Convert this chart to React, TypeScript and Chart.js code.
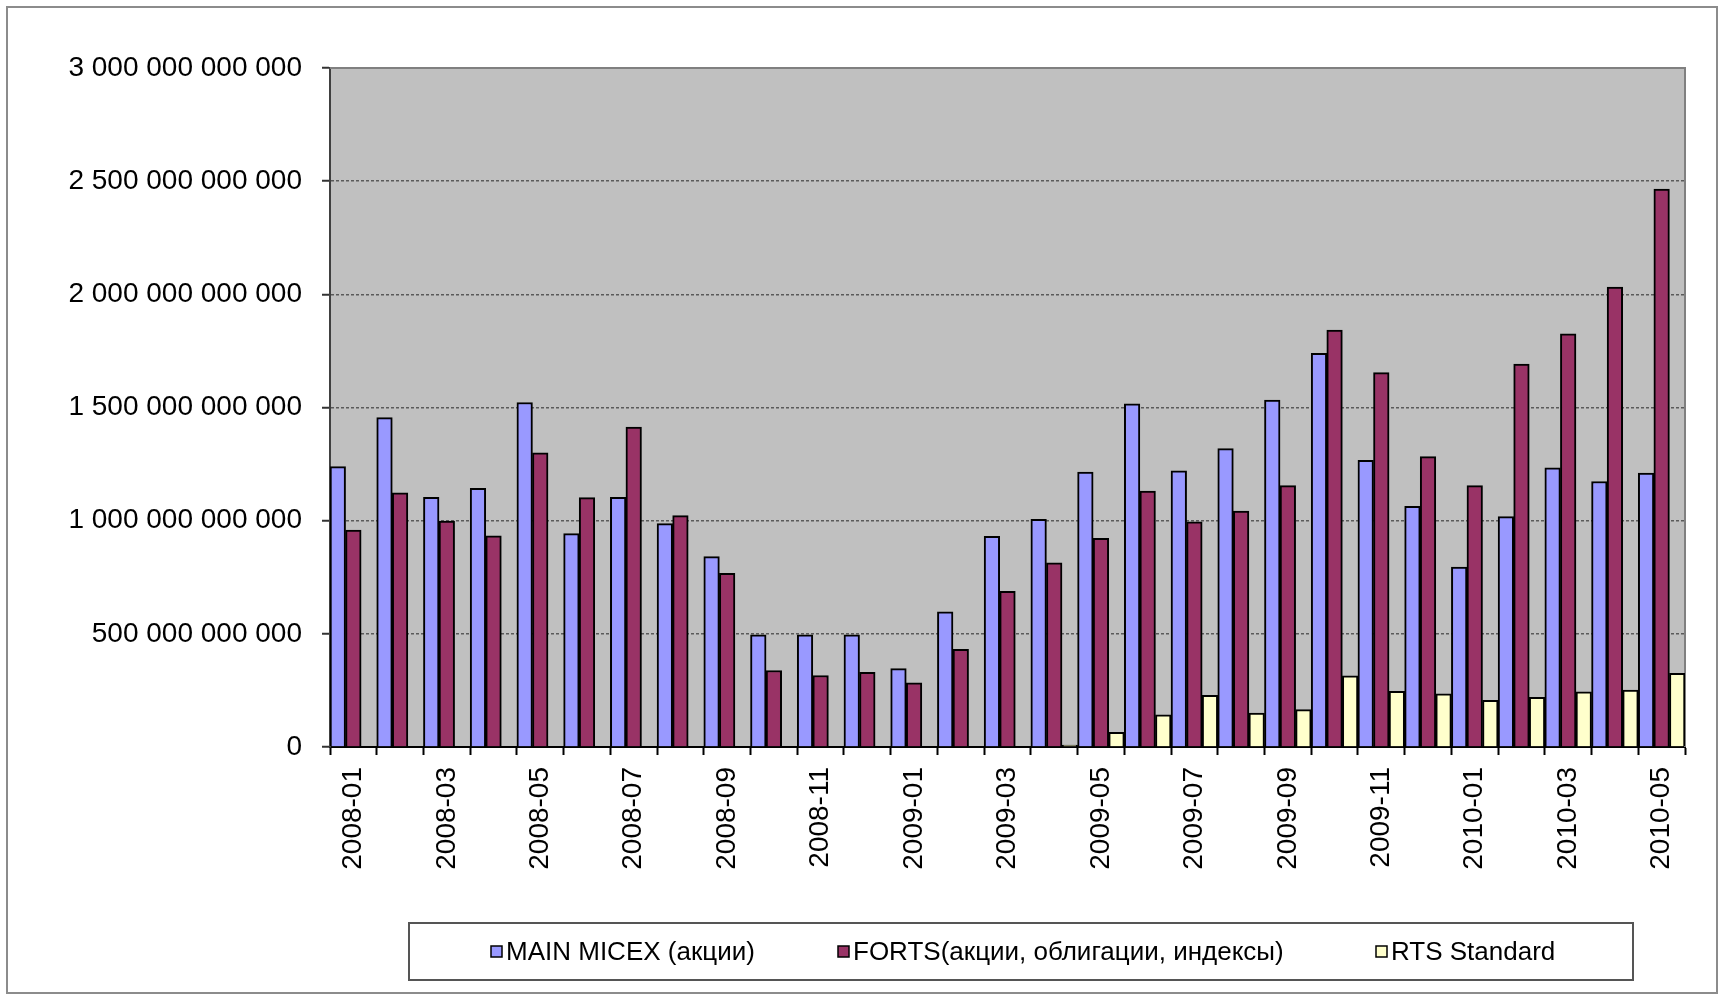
import React, { useEffect, useRef } from "react";
import { Chart, registerables } from "chart.js";

Chart.register(...registerables);

const months = [
  "2008-01", "2008-02", "2008-03", "2008-04", "2008-05", "2008-06",
  "2008-07", "2008-08", "2008-09", "2008-10", "2008-11", "2008-12",
  "2009-01", "2009-02", "2009-03", "2009-04", "2009-05", "2009-06",
  "2009-07", "2009-08", "2009-09", "2009-10", "2009-11", "2009-12",
  "2010-01", "2010-02", "2010-03", "2010-04", "2010-05",
];

// values in roubles
const micex = [
  1239e9, 1455e9, 1103e9, 1143e9, 1522e9, 943e9, 1103e9, 987e9, 841e9,
  496e9, 496e9, 496e9, 346e9, 597e9, 931e9, 1006e9, 1215e9, 1516e9,
  1220e9, 1318e9, 1533e9, 1739e9, 1267e9, 1063e9, 795e9, 1018e9, 1233e9,
  1173e9, 1210e9,
];

const forts = [
  958e9, 1123e9, 998e9, 933e9, 1300e9, 1102e9, 1413e9, 1022e9, 767e9,
  338e9, 316e9, 330e9, 283e9, 432e9, 688e9, 814e9, 922e9, 1131e9,
  995e9, 1042e9, 1155e9, 1842e9, 1654e9, 1283e9, 1155e9, 1692e9, 1826e9,
  2032e9, 2465e9,
];

const rts = [
  null, null, null, null, null, null, null, null, null,
  null, null, null, null, null, null, 8e9, 65e9, 142e9,
  228e9, 150e9, 165e9, 315e9, 246e9, 235e9, 206e9, 219e9, 244e9,
  251e9, 325e9,
];

const seriesNames = [
  "MAIN MICEX (акции)",
  "FORTS(акции, облигации, индексы)",
  "RTS Standard",
];
const seriesColors = ["#9999FF", "#993366", "#FFFFCC"];

const yMin = 0;
const yMax = 3000e9;
const yStep = 500e9;

const FONT = '"Liberation Sans", Arial, sans-serif';

function fmt(v: number): string {
  return String(Math.round(v)).replace(/\B(?=(\d{3})+(?!\d))/g, " ");
}

const framePlugin = {
  id: "frame",
  beforeDraw(chart: any) {
    const { ctx, chartArea } = chart;
    ctx.save();
    ctx.fillStyle = "#ffffff";
    ctx.fillRect(0, 0, chart.width, chart.height);
    ctx.fillStyle = "#C0C0C0";
    ctx.fillRect(
      chartArea.left,
      chartArea.top,
      chartArea.right - chartArea.left,
      chartArea.bottom - chartArea.top
    );
    ctx.restore();
  },
  beforeDatasetsDraw(chart: any) {
    const { ctx, chartArea } = chart;
    ctx.save();
    ctx.strokeStyle = "#808080";
    ctx.lineWidth = 2;
    ctx.beginPath();
    ctx.moveTo(chartArea.left, chartArea.top);
    ctx.lineTo(chartArea.right, chartArea.top);
    ctx.lineTo(chartArea.right, chartArea.bottom);
    ctx.stroke();
    ctx.restore();
  },
  afterDraw(chart: any) {
    const { ctx } = chart;
    ctx.save();
    ctx.strokeStyle = "#8c8c8c";
    ctx.lineWidth = 2;
    ctx.strokeRect(7, 7, 1710, 986);
    ctx.strokeStyle = "#555555";
    ctx.lineWidth = 2;
    ctx.strokeRect(409, 923, 1224, 57);
    const markerX = [491, 838, 1376];
    const cy = 952;
    ctx.font = "26px " + FONT;
    ctx.textBaseline = "middle";
    ctx.textAlign = "left";
    chart.data.datasets.forEach((ds: any, i: number) => {
      const mx = markerX[i];
      ctx.fillStyle = ds.backgroundColor;
      ctx.fillRect(mx, cy - 6, 11, 11);
      ctx.strokeStyle = "#000";
      ctx.lineWidth = 1.5;
      ctx.strokeRect(mx, cy - 6, 11, 11);
      ctx.fillStyle = "#000";
      ctx.fillText(ds.label, mx + 15, cy + 1);
    });
    ctx.restore();
  },
};

export default function App() {
  const ref = useRef<HTMLCanvasElement | null>(null);

  useEffect(() => {
    if (!ref.current) return;
    const chart = new Chart(ref.current, {
      type: "bar",
      data: {
        labels: months,
        datasets: [micex, forts, rts].map((d, i) => ({
          label: seriesNames[i],
          data: d as any,
          backgroundColor: seriesColors[i],
          borderColor: "#000000",
          borderWidth: 2,
          categoryPercentage: 1,
          barPercentage: 1,
        })),
      },
      options: {
        responsive: false,
        animation: false,
        layout: { padding: { left: 0, top: 68, right: 38, bottom: 0 } },
        plugins: {
          legend: { display: false },
          tooltip: { enabled: false },
        },
        scales: {
          x: {
            offset: true,
            grid: {
              display: true,
              drawOnChartArea: false,
              drawTicks: true,
              tickLength: 8,
              tickColor: "#000",
              tickWidth: 2,
              offset: true,
            },
            border: { display: true, color: "#000", width: 2 },
            ticks: {
              autoSkip: false,
              minRotation: 90,
              maxRotation: 90,
              padding: 12,
              color: "#000",
              font: { family: FONT, size: 28 },
              callback: (_v: any, i: number) => (i % 2 === 0 ? months[i] : ""),
            },
            afterFit: (scale: any) => {
              scale.height = 249;
            },
          },
          y: {
            min: yMin,
            max: yMax,
            grid: {
              color: "#5a5a5a",
              lineWidth: 1.5,
              tickLength: 8,
              tickColor: "#333",
              tickWidth: 2,
              tickBorderDash: [],
            },
            border: { display: true, color: "#404040", width: 2, dash: [3, 2] },
            ticks: {
              stepSize: yStep,
              padding: 20,
              color: "#000",
              font: { family: FONT, size: 28 },
              callback: (v: any) => fmt(Number(v)),
            },
            afterFit: (scale: any) => {
              scale.width = 330;
            },
          },
        },
      },
      plugins: [framePlugin],
    });
    return () => chart.destroy();
  }, []);

  return (
    <div
      style={{
        position: "absolute",
        left: 0,
        top: 0,
        width: 1723,
        height: 996,
        background: "#fff",
      }}
    >
      <canvas ref={ref} width={1723} height={996} />
    </div>
  );
}
